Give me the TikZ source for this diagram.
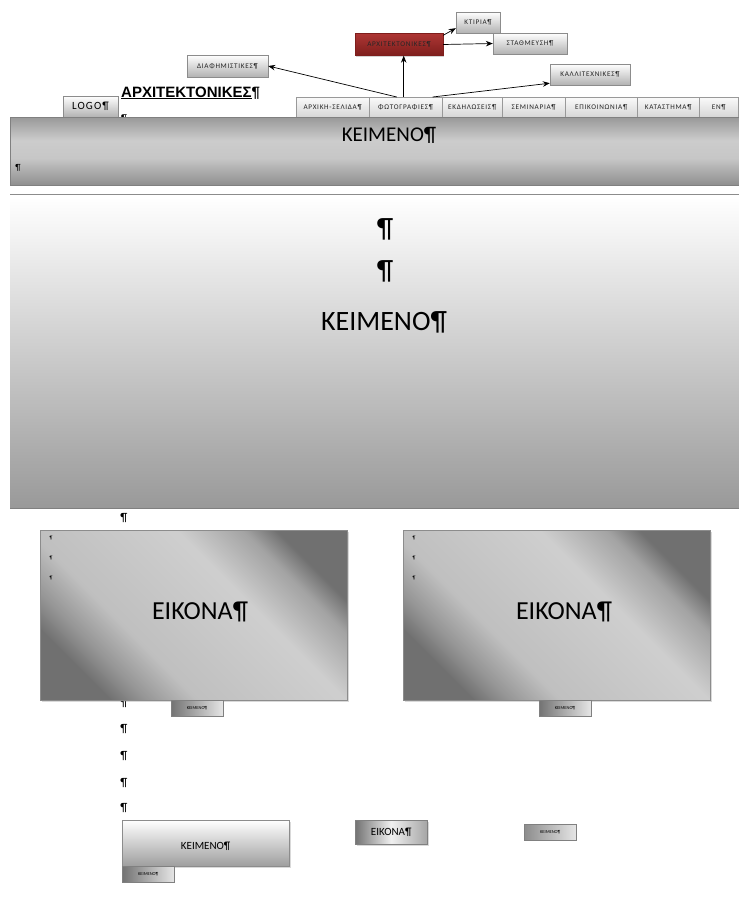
\documentclass[tikz,border=0pt]{standalone}
\usepackage{fontspec}
\setmainfont{Carlito}
\newfontfamily\titlefont{Liberation Sans}
\usetikzlibrary{positioning,arrows.meta,shadows}
\definecolor{archred}{HTML}{AD3634}
\definecolor{archreddk}{HTML}{7E1E1C}
\pgfdeclarehorizontalshading{imgshade}{100bp}{color(0bp)=(black!56); color(25bp)=(black!56); color(30bp)=(black!42); color(38bp)=(black!25); color(60bp)=(black!19); color(70bp)=(black!36); color(75bp)=(black!56); color(100bp)=(black!56)}
\pgfdeclarehorizontalshading{bandshade}{100bp}{color(0bp)=(black!44); color(25bp)=(black!44); color(45bp)=(black!22); color(58bp)=(black!20); color(75bp)=(black!40); color(100bp)=(black!40)}
\newcommand{\btnfont}{\fontsize{7.2}{8}\selectfont\addfontfeatures{LetterSpace=10}\color{black!85}}
\newcommand{\tinyfont}{\fontsize{4.5}{5}\selectfont}
\tikzset{
  btnbox/.style={draw=black!45, top color=white, bottom color=black!30,
    font=\btnfont, inner sep=0pt, align=center, minimum height=22pt,
    drop shadow={shadow xshift=1.3pt, shadow yshift=-1.3pt, opacity=0.35}},
  redbox/.style={btnbox, draw=archreddk, top color=archred, bottom color=archreddk},
  menubox/.style={draw=black!40, top color=black!2, bottom color=black!16,
    font=\btnfont, inner sep=0pt, minimum height=20pt, anchor=north west},
  smallbox/.style={draw=black!50, left color=black!55, right color=black!10,
    font=\tinyfont, inner sep=0pt, minimum width=52pt, minimum height=16pt,
    drop shadow={shadow xshift=1pt, shadow yshift=-1pt, opacity=0.3}},
  imgbox/.style={draw=black!45, shading=imgshade, shading angle=45,
    anchor=north west, minimum width=307pt, minimum height=170pt, inner sep=0pt,
    drop shadow={shadow xshift=2pt, shadow yshift=-2pt, opacity=0.3}},
  pil/.style={font=\fontsize{12}{12}\selectfont, inner sep=0pt},
  minipil/.style={font=\fontsize{5}{5}\selectfont, inner sep=0pt},
  menuarr/.style={-{Stealth[length=7pt,width=5.5pt]}, line width=0.7pt},
}

\begin{document}
\begin{tikzpicture}[x=1pt, y=-1pt]
  \useasboundingbox (0,0) rectangle (739,900);
  % Submenu boxes
  \node[redbox, minimum width=88pt] at (399,44.5) (arch) {ΑΡΧΙΤΕΚΤΟΝΙΚΕΣ¶};
  \node[btnbox, minimum width=44pt, minimum height=21pt] at (478,22.5) (ktir) {ΚΤΙΡΙΑ¶};
  \node[btnbox, minimum width=74pt, minimum height=21pt] at (530,43.5) (stath) {ΣΤΑΘΜΕΥΣΗ¶};
  \node[btnbox, minimum width=81pt] at (227.5,66) (diaf) {ΔΙΑΦΗΜΙΣΤΙΚΕΣ¶};
  \node[btnbox, minimum width=80pt, minimum height=21pt] at (590,74.5) (kall) {ΚΑΛΛΙΤΕΧΝΙΚΕΣ¶};
  % Logo and title
  \node[btnbox, font=\fontsize{11}{11}\selectfont\addfontfeatures{LetterSpace=10}, minimum width=55pt, minimum height=21pt] at (90.5,106.5) (logo) {LOGO¶};
  \node[pil, font=\fontsize{10}{10}\selectfont] at (124,119) (tpil) {¶};
  \node[font=\titlefont\bfseries\fontsize{15}{15}\selectfont, anchor=base west, inner sep=0pt] at (121,97) (title) {\underline{ΑΡΧΙΤΕΚΤΟΝΙΚΕΣ}¶};
  % Menu bar
  \foreach \x/\w/\nm/\txt in {296/73/home/ΑΡΧΙΚΗ-ΣΕΛΙΔΑ¶, 369/73/foto/ΦΩΤΟΓΡΑΦΙΕΣ¶,
      442/60/events/ΕΚΔΗΛΩΣΕΙΣ¶, 502/63/semin/ΣΕΜΙΝΑΡΙΑ¶, 565/72/contact/ΕΠΙΚΟΙΝΩΝΙΑ¶,
      637/62/shop/ΚΑΤΑΣΤΗΜΑ¶, 699/39/lang/ΕΝ¶}
    \node[menubox, minimum width=\w pt] at (\x,97) (\nm) {\txt};
  % Header band
  \node[draw=black!50, shading=bandshade, shading angle=90, anchor=north west, minimum width=729pt,
    minimum height=68pt, inner sep=0pt] at (10,117) (header) {};
  \node[font=\fontsize{21}{21}\selectfont] at (389,135) (hdrtxt) {ΚΕΙΜΕΝΟ¶};
  \node[pil, font=\fontsize{9}{9}\selectfont] at (18,168) (hdrpil) {¶};
  \draw[black!45, line width=1pt] (10,194) -- (739,194);
  % Edges
  \draw[menuarr] ([xshift=-9pt]foto.north) -- (diaf.east);
  \draw[menuarr] ([xshift=-2pt]foto.north) -- ([xshift=-2pt]foto.north |- arch.south);
  \draw[menuarr] ([xshift=27pt]foto.north) -- ([yshift=2pt]kall.south west);
  \draw[menuarr] ([yshift=-2pt]arch.north east) -- ([yshift=5pt]ktir.south west);
  \draw[menuarr] (arch.east) -- (stath.west);
  % Main text area
  \node[top color=white, bottom color=black!40, anchor=north west, minimum width=729pt,
    minimum height=311pt, inner sep=0pt] at (10,197) (page) {};
  \draw[black!50, line width=1pt] (page.south west) -- (page.south east);
  \node[font=\fontsize{28}{28}\selectfont, inner sep=0pt] at (385,229) (ppil1) {¶};
  \node[font=\fontsize{28}{28}\selectfont, inner sep=0pt] at (385,271) (ppil2) {¶};
  \node[font=\fontsize{28}{28}\selectfont] at (384,322) (pagetxt) {ΚΕΙΜΕΝΟ¶};
  % Pilcrow column
  \foreach \y [count=\i] in {518,703,729,756,783,808}
    \node[pil] at (124,\y) (pil\i) {¶};
  % Image boxes
  \node[imgbox] at (40,530) (imgL) {};
  \node[imgbox] at (403,530) (imgR) {};
  \foreach \y [count=\i] in {538,558,578} {
    \node[minipil] at (51,\y) (lpil\i) {¶};
    \node[minipil] at (414,\y) (rpil\i) {¶};
  }
  \node[font=\fontsize{26}{26}\selectfont] at (200,612) (imgLtxt) {ΕΙΚΟΝΑ¶};
  \node[font=\fontsize{26}{26}\selectfont] at (564,612) (imgRtxt) {ΕΙΚΟΝΑ¶};
  \node[smallbox] at (197,708) (capL) {ΚΕΙΜΕΝΟ¶};
  \node[smallbox] at (565,708) (capR) {ΚΕΙΜΕΝΟ¶};
  % Bottom row
  \node[draw=black!45, top color=white, bottom color=black!38, anchor=north west,
    minimum width=167pt, minimum height=46pt, font=\fontsize{11}{11}\selectfont,
    drop shadow={shadow xshift=1.5pt, shadow yshift=-1.5pt, opacity=0.3}] at (122,820) (txtbox) {\rule{0pt}{14pt}ΚΕΙΜΕΝΟ¶};
  \node[smallbox, anchor=north west] at (122,866) (txtcap) {ΚΕΙΜΕΝΟ¶};
  \node[draw=black!50, left color=black!55, right color=black!35, middle color=black!6,
    anchor=north west, minimum width=72pt, minimum height=24pt, inner sep=0pt,
    font=\fontsize{11}{11}\selectfont,
    drop shadow={shadow xshift=1.5pt, shadow yshift=-1.5pt, opacity=0.3}] at (355,820) (imgsm) {ΕΙΚΟΝΑ¶};
  \node[smallbox, anchor=north west, left color=black!45] at (524,824) (capsm) {ΚΕΙΜΕΝΟ¶};
\end{tikzpicture}
\end{document}
